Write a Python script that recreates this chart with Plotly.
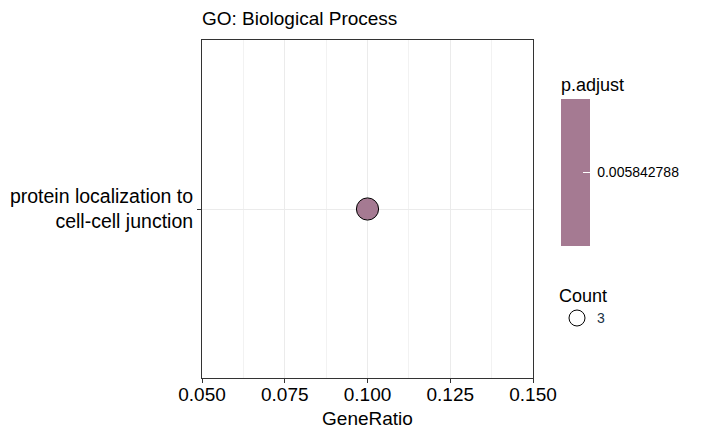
import plotly.graph_objects as go

# GO enrichment result (single term)
descriptions = ["protein localization to<br>cell-cell junction"]
gene_ratio = [0.1]
p_adjust = [0.005842788]
counts = [3]

x_ticks = [0.050, 0.075, 0.100, 0.125, 0.150]
x_labels = ["0.050", "0.075", "0.100", "0.125", "0.150"]

dot_col = "#A57A92"
font = "Liberation Sans, Arial, sans-serif"

# page body has an 8px margin, so the figure is drawn 8px smaller
W, H = 693, 430
L, R, T, B = 194, 168, 32, 60
pw, ph = W - L - R, H - T - B

fig = go.Figure()

fig.add_trace(go.Scatter(
    x=gene_ratio,
    y=descriptions,
    mode="markers",
    showlegend=False,
    marker=dict(
        size=[c * 7.4 for c in counts],
        color=p_adjust,
        opacity=1,
        colorscale=[[0, dot_col], [1, dot_col]],
        cmin=p_adjust[0] * 0.99,
        cmax=p_adjust[0] * 1.01,
        line=dict(color="black", width=1),
        colorbar=dict(
            title=dict(text="p.adjust", side="top", font=dict(size=18, color="black")),
            x=(553 - L) / pw, xanchor="left", xpad=0,
            y=(T + ph - 152) / ph, yanchor="middle", ypad=0,
            len=172, lenmode="pixels",
            thickness=29,
            outlinewidth=0,
            tickvals=p_adjust,
            ticktext=["\u00a0%.9f" % v for v in p_adjust],
            ticks="inside", ticklen=7, tickcolor="white",
            tickfont=dict(size=14, color="black"),
        ),
    ),
))

# size legend (Count)
fig.add_trace(go.Scatter(
    x=[None], y=[None],
    mode="markers",
    name=str(counts[0]),
    marker=dict(size=16, color="white", line=dict(color="black", width=1)),
))

fig.update_layout(
    width=W, height=H,
    margin=dict(l=L, r=R, t=T, b=B),
    paper_bgcolor="white",
    plot_bgcolor="white",
    font=dict(family=font, color="black"),
    title=dict(text="GO: Biological Process", x=L / W, xanchor="left",
               yref="container", y=1 - 10 / H, yanchor="middle",
               font=dict(size=19, color="black")),
    legend=dict(
        title=dict(text="Count", font=dict(size=18, color="black")),
        x=(549 - L) / pw, xanchor="left", y=(T + ph - 271) / ph, yanchor="top",
        font=dict(size=14, color="#1a3344"),
        bgcolor="rgba(0,0,0,0)",
    ),
)

fig.update_xaxes(
    automargin=False,
    range=[0.05, 0.15],
    tickvals=x_ticks, ticktext=x_labels,
    tickfont=dict(size=19, color="black"),
    ticklabelstandoff=-5,
    title=dict(text="GeneRatio", font=dict(size=19, color="black"), standoff=7),
    showgrid=True, gridcolor="#EBEBEB", gridwidth=1,
    minor=dict(showgrid=True, gridcolor="#F2F2F2", dtick=0.0125, tick0=0.05),
    showline=True, linecolor="#333333", linewidth=1, mirror=True,
    ticks="outside", ticklen=4, tickcolor="#333333",
    zeroline=False,
)

fig.update_yaxes(
    automargin=False,
    range=[-1, 1],
    tickfont=dict(size=19.5, color="black"),
    showgrid=True, gridcolor="#EBEBEB", gridwidth=1,
    showline=True, linecolor="#333333", linewidth=1, mirror=True,
    ticks="outside", ticklen=4, tickcolor="#333333",
    zeroline=False,
)

fig.write_html("out.html")
